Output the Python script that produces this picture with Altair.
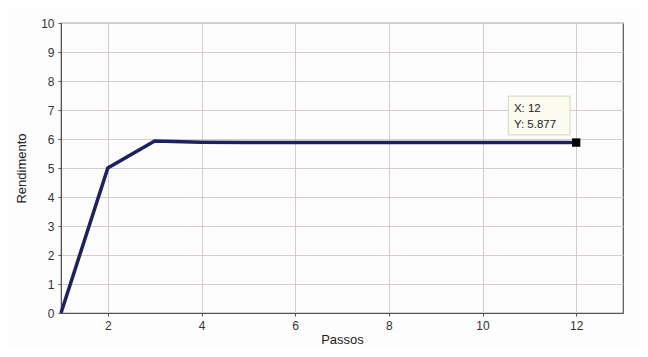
import altair as alt
import pandas as pd

passos = [1, 2, 3, 4, 5, 6, 7, 8, 9, 10, 11, 12]
rendimento = [0.0, 5.0, 5.93, 5.89, 5.88, 5.878, 5.877, 5.877, 5.877, 5.877, 5.877, 5.877]
x_ticks = [2, 4, 6, 8, 10, 12]
y_ticks = [0, 1, 2, 3, 4, 5, 6, 7, 8, 9, 10]
tip_x, tip_y = 12, 5.877
tip_lines = ["X: 12", "Y: 5.877"]

df = pd.DataFrame({"x": passos, "y": rendimento})
tip = pd.DataFrame({"x": [tip_x], "y": [tip_y]})
box = pd.DataFrame({"x": [10.55], "x2": [11.87], "y": [6.14], "y2": [7.48]})
txt = pd.DataFrame({"x": [10.67, 10.67], "y": [7.04, 6.5], "t": tip_lines})

xs = alt.Scale(domain=[1, 13], nice=False, zero=False)
ys = alt.Scale(domain=[0, 10], nice=False)

xax = alt.Axis(values=x_ticks, title="Passos", grid=True, gridColor="#d6cccc",
               labelFontSize=12, titleFontSize=13, labelColor="#333", titleColor="#222",
               domainColor="#555", tickColor="#555", tickSize=3, labelPadding=4, titlePadding=2,
               labelOverlap=False)
yax = alt.Axis(values=y_ticks, title="Rendimento", grid=True, gridColor="#d6cccc",
               labelFontSize=12, titleFontSize=13, labelColor="#333", titleColor="#222",
               domainColor="#555", tickColor="#555", tickSize=3, labelPadding=4, titlePadding=12,
               labelOverlap=False)

X = alt.X("x:Q", scale=xs, axis=xax)
Y = alt.Y("y:Q", scale=ys, axis=yax)

line = alt.Chart(df).mark_line(color="#1c2260", strokeWidth=3.5).encode(x=X, y=Y)

rect = alt.Chart(box).mark_rect(fill="#fbfbee", stroke="#d6d6c0", strokeWidth=1).encode(
    x=X, x2="x2:Q", y=Y, y2="y2:Q"
)

text = alt.Chart(txt).mark_text(align="left", baseline="middle", fontSize=11.5,
                                 font="Liberation Sans", color="#222").encode(
    x=X, y=Y, text="t:N"
)

pt = alt.Chart(tip).mark_square(color="black", size=70, opacity=1).encode(x=X, y=Y)

chart = alt.layer(line, rect, text, pt).properties(
    width=562, height=290,
    autosize=alt.AutoSizeParams(type="none"),
    padding={"left": 53, "top": 15, "right": 17, "bottom": 36},
    background="#fdfdfd",
).configure_view(stroke="#555", strokeWidth=1.2).configure_axis(
    labelFont="Liberation Sans", titleFont="Liberation Sans", titleFontWeight="normal"
)

chart.save("out.html", embed_options={"renderer": "svg", "actions": False})
